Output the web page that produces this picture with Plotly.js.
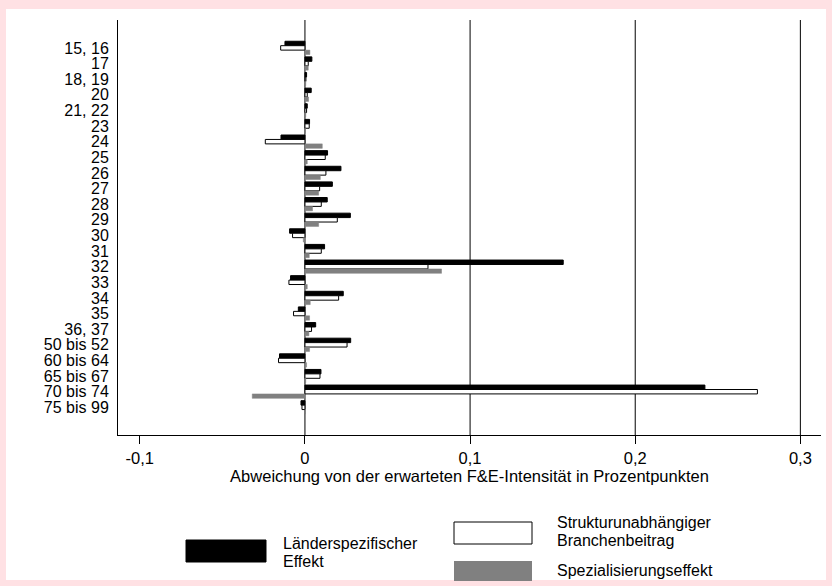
<!DOCTYPE html>
<html>
<head>
<meta charset="utf-8">
<script src="https://cdn.plot.ly/plotly-3.0.1.min.js"></script>
<style>
html,body{margin:0;padding:0;background:#ffe1e4;}
#chart{width:832px;height:586px;}
</style>
</head>
<body>
<div id="chart"></div>
<script>
// ---- data ----
const categories = ["15, 16","17","18, 19","20","21, 22","23","24","25","26","27","28","29","30","31","32","33","34","35","36, 37","50 bis 52","60 bis 64","65 bis 67","70 bis 74","75 bis 99"];
const laenderEffekt = [-0.0121,0.0042,0.0010,0.0038,0.0014,0.0028,-0.0145,0.0137,0.0218,0.0166,0.0135,0.0275,-0.0093,0.0119,0.1564,-0.0087,0.0232,-0.0040,0.0065,0.0277,-0.0154,0.0097,0.2422,-0.0024];
const branchenBeitrag = [-0.0147,0.0020,0.0006,0.0014,0.0010,0.0026,-0.0240,0.0123,0.0127,0.0089,0.0099,0.0196,-0.0075,0.0099,0.0745,-0.0097,0.0204,-0.0069,0.0040,0.0255,-0.0160,0.0091,0.2740,-0.0018];
const spezialisierung = [0.0030,0.0020,0.0005,0.0022,0.0005,0.0003,0.0105,0.0014,0.0093,0.0083,0.0046,0.0083,-0.0010,0.0026,0.0827,0.0014,0.0032,0.0028,0.0024,0.0028,0.0010,0.0005,-0.0319,0.0003];
const xTickVals = [-0.1,0,0.1,0.2,0.3];
const xTickText = ["-0,1","0","0,1","0,2","0,3"];
const gridVals = [0,0.1,0.2,0.3];
const seriesNames = ["Länderspezifischer Effekt","Strukturunabhängiger Branchenbeitrag","Spezialisierungseffekt"];
const legendLines = [["Länderspezifischer","Effekt"],["Strukturunabhängiger","Branchenbeitrag"],["Spezialisierungseffekt"]];

// ---- layout helpers (pixel -> paper) ----
const W=832,H=586,L=118,R=11,T=20,B=151;
const PW=W-L-R, PH=H-T-B;
const px=x=>(x-L)/PW, py=y=>(H-B-y)/PH;
const FONT="Liberation Sans, Arial, sans-serif";

const traces=[
 {type:'bar',orientation:'h',y:categories,x:laenderEffekt,name:seriesNames[0],
  marker:{color:'#000000',line:{color:'#000000',width:1}}},
 {type:'bar',orientation:'h',y:categories,x:branchenBeitrag,name:seriesNames[1],
  marker:{color:'#ffffff',line:{color:'#000000',width:1}}},
 {type:'bar',orientation:'h',y:categories,x:spezialisierung,name:seriesNames[2],
  marker:{color:'#808080',line:{color:'#808080',width:0.5}}}
];

const shapes=[
 {type:'rect',xref:'paper',yref:'paper',x0:px(6),x1:px(826),y0:py(9),y1:py(580),
  fillcolor:'#ffffff',line:{width:0},layer:'below'}
];
gridVals.forEach(v=>shapes.push({type:'line',xref:'x',yref:'paper',x0:v,x1:v,y0:0,y1:1,
  line:{color:'#000000',width:1},layer:'below'}));
// legend swatches
shapes.push({type:'rect',xref:'paper',yref:'paper',x0:px(186),x1:px(266),y0:py(562),y1:py(540),fillcolor:'#000000',line:{color:'#000000',width:1}});
shapes.push({type:'rect',xref:'paper',yref:'paper',x0:px(454),x1:px(532),y0:py(544),y1:py(522),fillcolor:'#ffffff',line:{color:'#000000',width:1}});
shapes.push({type:'rect',xref:'paper',yref:'paper',x0:px(454),x1:px(532),y0:py(581),y1:py(561),fillcolor:'#808080',line:{width:0}});

const annFont={family:FONT,size:16,color:'#000'};
const annotations=[];
const legendPos=[[281,543],[555,522],[555,570]];
legendLines.forEach((lines,i)=>{
  lines.forEach((t,j)=>annotations.push({xref:'paper',yref:'paper',x:px(legendPos[i][0]),y:py(legendPos[i][1]+18*j),
    xanchor:'left',yanchor:'middle',align:'left',showarrow:false,text:t,font:annFont}));
});

const layout={
 width:W,height:H,
 margin:{l:L,r:R,t:T,b:B,pad:0},
 paper_bgcolor:'#ffe1e4',plot_bgcolor:'rgba(0,0,0,0)',
 barmode:'group',bargap:0.15,bargroupgap:0,
 showlegend:false,
 font:{family:FONT,size:16,color:'#000'},
 xaxis:{range:[-0.1132,0.3125],tickmode:'array',tickvals:xTickVals,ticktext:xTickText,
   showgrid:false,zeroline:false,showline:true,linecolor:'#000',linewidth:1,
   ticks:'outside',ticklen:8,tickcolor:'#000',tickwidth:1,
   tickfont:{family:FONT,size:16.5,color:'#000'},
   title:{text:'Abweichung von der erwarteten F&E-Intensität in Prozentpunkten',
     font:{family:FONT,size:16.5,color:'#000'},standoff:0}},
 yaxis:{type:'category',categoryorder:'array',categoryarray:categories,
   tickmode:'array',tickvals:categories,ticktext:categories,
   range:[24.77,-1.785],showgrid:false,zeroline:false,showline:true,linecolor:'#000',linewidth:1,
   ticks:'outside',ticklen:5,tickcolor:'rgba(0,0,0,0)',
   tickfont:{family:FONT,size:16,color:'#000'}},
 shapes:shapes,annotations:annotations
};
Plotly.newPlot('chart',traces,layout,{displayModeBar:false,staticPlot:true});
</script>
</body>
</html>
